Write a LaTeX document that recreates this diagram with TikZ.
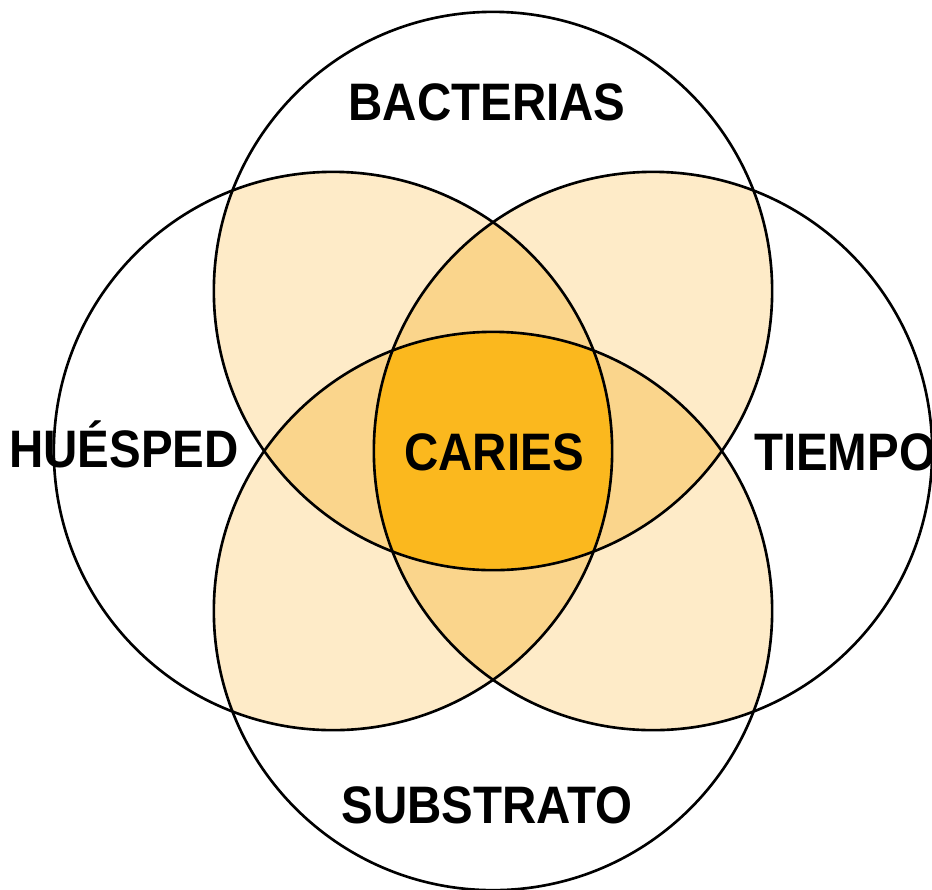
\documentclass[tikz,border=0pt]{standalone}
\usepackage{fontspec}
\setmainfont{Liberation Sans}
\usepackage{tikz}

\definecolor{pale}{HTML}{FEEBC8}
\definecolor{mid}{HTML}{FAD58C}
\definecolor{deep}{HTML}{FBB81E}

\begin{document}
\begin{tikzpicture}[x=0.01cm, y=-0.01cm,
    ring/.style={draw=black, line width=0.75pt},
    factor/.style={font=\bfseries\fontsize{15}{15}\selectfont, xscale=0.9, anchor=base, inner sep=0pt}]

\useasboundingbox[fill=white] (0,0) rectangle (932,890);

% centres of the four circles
\coordinate (bac) at (493,291);
\coordinate (hue) at (333,451);
\coordinate (tie) at (653,451);
\coordinate (sub) at (493,611);

% two circles
\begin{scope}
  \clip (bac) circle (2.79cm);
  \fill[pale] (hue) circle (2.79cm);
  \fill[pale] (tie) circle (2.79cm);
  \fill[pale] (sub) circle (2.79cm);
\end{scope}
\begin{scope}
  \clip (hue) circle (2.79cm);
  \fill[pale] (tie) circle (2.79cm);
  \fill[pale] (sub) circle (2.79cm);
\end{scope}
\begin{scope}
  \clip (sub) circle (2.79cm);
  \fill[pale] (tie) circle (2.79cm);
\end{scope}

% three circles
\begin{scope}
  \clip (bac) circle (2.79cm);
  \clip (hue) circle (2.79cm);
  \fill[mid] (tie) circle (2.79cm);
  \fill[mid] (sub) circle (2.79cm);
\end{scope}
\begin{scope}
  \clip (bac) circle (2.79cm);
  \clip (tie) circle (2.79cm);
  \fill[mid] (sub) circle (2.79cm);
\end{scope}
\begin{scope}
  \clip (hue) circle (2.79cm);
  \clip (tie) circle (2.79cm);
  \fill[mid] (sub) circle (2.79cm);
\end{scope}

% all four
\begin{scope}
  \clip (bac) circle (2.79cm);
  \clip (hue) circle (2.79cm);
  \clip (tie) circle (2.79cm);
  \fill[deep] (sub) circle (2.79cm);
\end{scope}

\foreach \c in {bac,hue,tie,sub}
  \draw[ring] (\c) circle (2.79cm);

\node[factor] (bacterias) at (487,120) {BACTERIAS};
\node[factor] (huesped) at (124,467) {HUÉSPED};
\node[factor] (caries) at (494,470) {CARIES};
\node[factor] (tiempo) at (845,470) {TIEMPO};
\node[factor] (substrato) at (487,823) {SUBSTRATO};

\end{tikzpicture}
\end{document}
